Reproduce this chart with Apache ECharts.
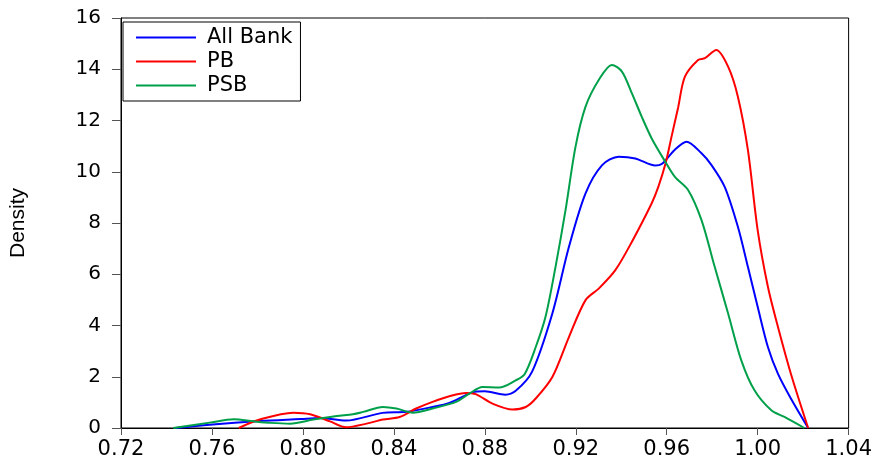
<!DOCTYPE html>
<html>
<head>
<meta charset="utf-8">
<script src="https://cdn.jsdelivr.net/npm/echarts@6/dist/echarts.min.js"></script>
<style>html,body{margin:0;padding:0;background:#fff;}#c{width:875px;height:463px;}</style>
</head>
<body>
<div id="c"></div>
<script>
const seriesNames = ['All Bank', 'PB', 'PSB'];
const xTicks = [0.72, 0.76, 0.80, 0.84, 0.88, 0.92, 0.96, 1.00, 1.04];
const yTicks = [0, 2, 4, 6, 8, 10, 12, 14, 16];

const allBankX = [0.744, 0.759, 0.781, 0.799, 0.8075, 0.819, 0.835, 0.8455, 0.857, 0.8644, 0.8746, 0.880, 0.889, 0.8936, 0.9008, 0.9097, 0.917, 0.9243, 0.9316, 0.9389, 0.9462, 0.955, 0.9578, 0.9635, 0.9687, 0.9753, 0.9797, 0.9855, 0.9913, 0.9957, 1.0, 1.0045, 1.0089, 1.0146, 1.0222];
const allBankY = [0, 0.13, 0.27, 0.35, 0.39, 0.29, 0.59, 0.63, 0.82, 0.98, 1.39, 1.43, 1.30, 1.45, 2.2, 4.47, 7.07, 9.16, 10.26, 10.59, 10.52, 10.24, 10.30, 10.85, 11.17, 10.72, 10.26, 9.41, 7.85, 6.29, 4.73, 3.16, 2.12, 1.15, 0];

const pbX = [0.7718, 0.781, 0.7958, 0.8032, 0.8119, 0.819, 0.828, 0.8352, 0.8425, 0.8498, 0.857, 0.8644, 0.8717, 0.876, 0.8834, 0.8922, 0.898, 0.9024, 0.9097, 0.917, 0.9243, 0.9301, 0.9374, 0.9447, 0.9534, 0.9563, 0.9595, 0.9622, 0.965, 0.968, 0.9738, 0.9768, 0.9818, 0.987, 0.9913, 0.9957, 1.0, 1.0045, 1.0089, 1.0146, 1.0222];
const pbY = [0, 0.33, 0.60, 0.54, 0.26, 0.03, 0.17, 0.33, 0.43, 0.76, 1.02, 1.24, 1.37, 1.32, 0.95, 0.72, 0.82, 1.15, 1.99, 3.55, 4.99, 5.44, 6.16, 7.27, 8.77, 9.41, 10.33, 11.4, 12.5, 13.71, 14.36, 14.43, 14.75, 14.10, 12.93, 10.85, 7.72, 5.51, 3.95, 2.12, 0];

const psbX = [0.743, 0.759, 0.7696, 0.7783, 0.7857, 0.7944, 0.8046, 0.8148, 0.822, 0.8265, 0.8352, 0.8411, 0.8484, 0.857, 0.8674, 0.8732, 0.879, 0.8863, 0.8936, 0.8975, 0.9024, 0.9067, 0.9111, 0.9155, 0.9199, 0.9243, 0.9301, 0.9359, 0.9403, 0.9447, 0.949, 0.9534, 0.9593, 0.9636, 0.9694, 0.9753, 0.9811, 0.987, 0.9928, 0.9986, 1.006, 1.0118, 1.0205];
const psbY = [0, 0.21, 0.34, 0.26, 0.20, 0.17, 0.33, 0.47, 0.54, 0.63, 0.82, 0.76, 0.60, 0.76, 1.02, 1.34, 1.60, 1.58, 1.86, 2.1, 3.16, 4.34, 6.29, 8.50, 10.98, 12.54, 13.58, 14.17, 13.91, 13.06, 12.15, 11.30, 10.40, 9.80, 9.29, 8.11, 6.29, 4.47, 2.64, 1.47, 0.69, 0.43, 0];

const colors = ['#0000FF', '#FF0000', '#00A04A'];

function zip(xs, ys) { return xs.map((x, i) => [x, ys[i]]); }

const chart = echarts.init(document.getElementById('c'), null, {renderer: 'canvas'});
const tickFont = 'DejaVu Sans, Liberation Sans, sans-serif';
const nameFont = 'Liberation Sans, Arial, sans-serif';
chart.setOption({
  animation: false,
  backgroundColor: '#fff',
  grid: {left: 120, right: 24, top: 18, bottom: 35, show: true, borderColor: '#000', borderWidth: 1, containLabel: false},
  legend: {
    orient: 'vertical', left: 123, top: 22,
    data: seriesNames,
    icon: 'rect', itemWidth: 60, itemHeight: 2, itemGap: 3,
    borderColor: '#000', borderWidth: 1,
    padding: [5, 8, 5, 13],
    textStyle: {fontFamily: tickFont, fontSize: 21, color: '#000', lineHeight: 21, padding: [0, 0, 0, 6]}
  },
  xAxis: {
    type: 'value', min: xTicks[0], max: xTicks[xTicks.length - 1], interval: 0.04,
    axisLine: {lineStyle: {color: '#000', width: 1}},
    axisTick: {show: true, length: 7, lineStyle: {color: '#555'}},
    splitLine: {show: false},
    axisLabel: {fontFamily: tickFont, fontSize: 21, color: '#000', margin: 11, formatter: v => v.toFixed(2)}
  },
  yAxis: {
    type: 'value', min: yTicks[0], max: yTicks[yTicks.length - 1], interval: 2,
    name: 'Density', nameLocation: 'middle', nameGap: 92,
    nameTextStyle: {fontFamily: nameFont, fontSize: 21, color: '#000'},
    axisLine: {show: true, lineStyle: {color: '#000', width: 1}},
    axisTick: {show: true, length: 9, lineStyle: {color: '#555'}},
    splitLine: {show: false},
    axisLabel: {fontFamily: tickFont, fontSize: 20, color: '#000', margin: 20}
  },
  series: [
    {name: seriesNames[0], type: 'line', data: zip(allBankX, allBankY), smooth: 0.3, showSymbol: false, lineStyle: {color: colors[0], width: 2}, itemStyle: {color: colors[0]}},
    {name: seriesNames[1], type: 'line', data: zip(pbX, pbY), smooth: 0.3, showSymbol: false, lineStyle: {color: colors[1], width: 2}, itemStyle: {color: colors[1]}},
    {name: seriesNames[2], type: 'line', data: zip(psbX, psbY), smooth: 0.3, showSymbol: false, lineStyle: {color: colors[2], width: 2}, itemStyle: {color: colors[2]}}
  ]
});
</script>
</body>
</html>
